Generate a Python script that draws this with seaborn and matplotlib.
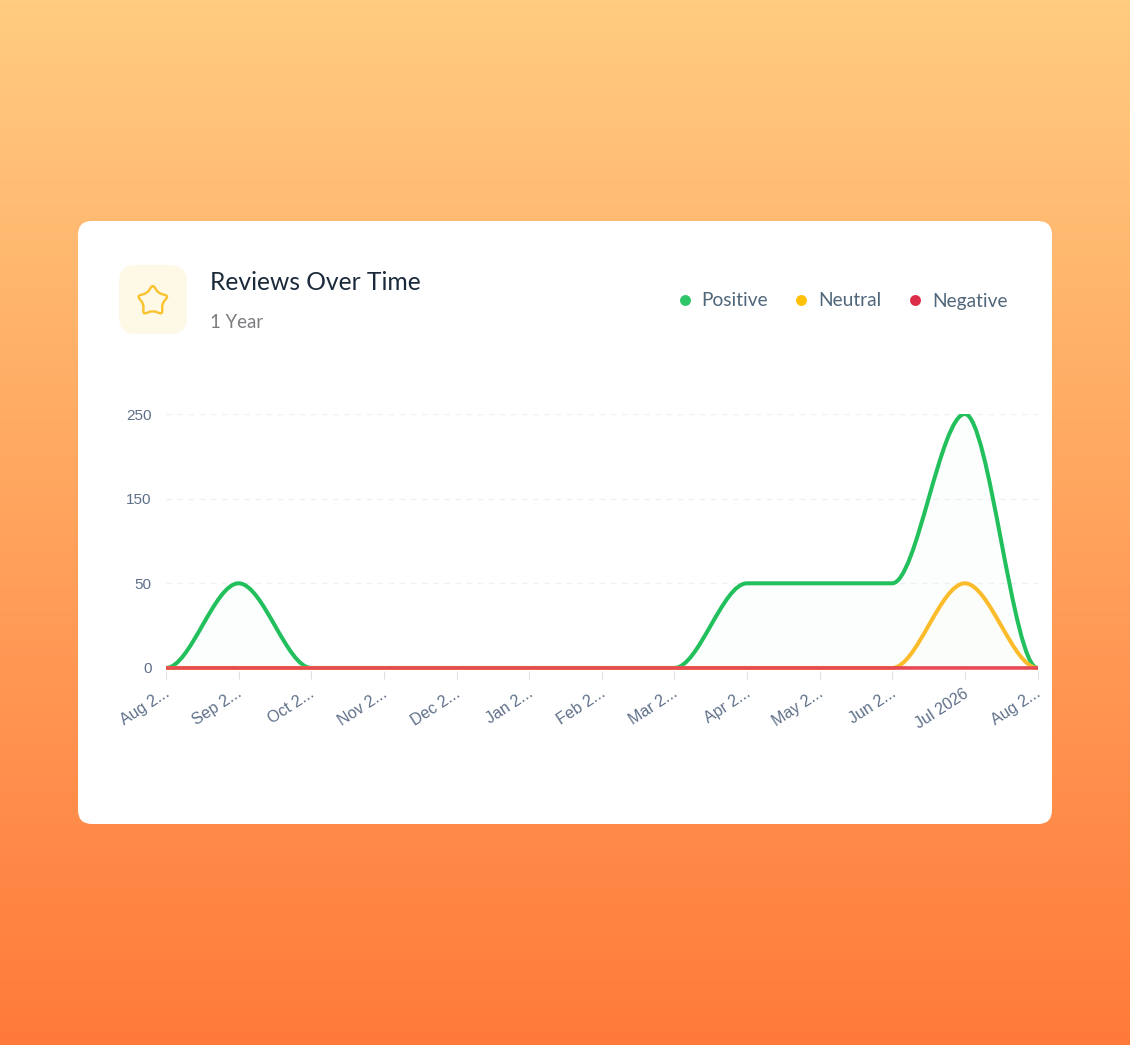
import numpy as np
import pandas as pd
import seaborn as sns
import matplotlib.pyplot as plt
from matplotlib.colors import LinearSegmentedColormap
from matplotlib.patches import FancyBboxPatch, PathPatch
from matplotlib.path import Path
from matplotlib.transforms import ScaledTranslation

# chart data
months = ["Aug 2...", "Sep 2...", "Oct 2...", "Nov 2...", "Dec 2...", "Jan 2...", "Feb 2...",
          "Mar 2...", "Apr 2...", "May 2...", "Jun 2...", "Jul 2026", "Aug 2..."]
positive = [0, 50, 0, 0, 0, 0, 0, 0, 50, 50, 50, 250, 0]
neutral = [0, 0, 0, 0, 0, 0, 0, 0, 0, 0, 0, 50, 0]
negative = [0, 0, 0, 0, 0, 0, 0, 0, 0, 0, 0, 0, 0]
y_ticks = [0, 50, 150, 250]

series_names = ["Positive", "Neutral", "Negative"]
line_colors = ["#22C05C", "#FBBC2C", "#E64A55"]
line_widths = [2.9, 2.9, 2.6]
dot_colors = ["#2FC66B", "#FFC107", "#DC2E4B"]

W, H = 1130, 1045

# the y axis is evenly spaced although its labels are not
scale_from = [-50, 0, 50, 150, 250, 350]
scale_to = [-1, 0, 1, 2, 3, 4]


def forward(v):
    return np.interp(v, scale_from, scale_to)


def inverse(v):
    return np.interp(v, scale_to, scale_from)


def round_box(ax, x0, y0, x1, y1, radius, color):
    ax.add_patch(FancyBboxPatch((x0 + radius, y0 + radius), x1 - x0 - 2 * radius, y1 - y0 - 2 * radius,
                                boxstyle="round,pad=%s,rounding_size=%s" % (radius, radius),
                                fc=color, ec="none"))


def star_path(cx, cy, outer, inner, soft=0.36):
    # five point star with rounded corners, y axis pointing down
    pts = []
    for i in range(10):
        r = outer if i % 2 == 0 else inner
        a = -np.pi / 2 + i * np.pi / 5
        pts.append(np.array([cx + r * np.cos(a), cy + r * np.sin(a)]))
    verts, codes = [], []
    for i, p in enumerate(pts):
        prev_p = pts[i - 1]
        next_p = pts[(i + 1) % 10]
        verts += [p + (prev_p - p) * soft, p, p + (next_p - p) * soft]
        codes += [Path.MOVETO if i == 0 else Path.LINETO, Path.CURVE3, Path.CURVE3]
    verts.append(verts[0])
    codes.append(Path.CLOSEPOLY)
    return Path(verts, codes)


def smooth_line(ax, line, color, width, fill_alpha=0.0):
    # swap the straight segments of a seaborn line for flat-tangent bezier ones
    xy = line.get_xydata()
    verts = [xy[0]]
    codes = [Path.MOVETO]
    for (x0, y0), (x1, y1) in zip(xy[:-1], xy[1:]):
        dx = (x1 - x0) / 3
        verts += [(x0 + dx, y0), (x1 - dx, y1), (x1, y1)]
        codes += [Path.CURVE4] * 3
    if fill_alpha:
        fill_verts = verts + [(xy[-1][0], 0), (xy[0][0], 0), xy[0]]
        fill_codes = codes + [Path.LINETO, Path.LINETO, Path.CLOSEPOLY]
        ax.add_patch(PathPatch(Path(fill_verts, fill_codes), fc=color, ec="none", alpha=fill_alpha))
    ax.add_patch(PathPatch(Path(verts, codes), fc="none", ec=color, lw=width, capstyle="round"))


sns.set_theme(style="white")
plt.rcParams["font.family"] = ["Lato", "DejaVu Sans"]

fig = plt.figure(figsize=(W / 100, H / 100), dpi=100)

# background, card and header are laid out in pixels
bg = fig.add_axes([0, 0, 1, 1])
bg.set_xlim(0, W)
bg.set_ylim(H, 0)
bg.axis("off")
grad = LinearSegmentedColormap.from_list("bg", ["#FFCC80", "#FF7A3A"])
bg.imshow(np.linspace(0, 1, 256).reshape(-1, 1), cmap=grad, extent=(0, W, H, 0), aspect="auto")
bg.set_xlim(0, W)
bg.set_ylim(H, 0)

round_box(bg, 78, 221, 1052, 824, 14, "white")
round_box(bg, 119, 265, 187, 334, 17, "#FEF8E6")
bg.add_patch(PathPatch(star_path(152.8, 301, 16.5, 9.6), fc="none", ec="#F9C22E", lw=1.7))

bg.text(210, 289.5, "Reviews Over Time", fontsize=17.7, color="#1B2A3B", va="baseline")
bg.text(210, 327.5, "1 Year", fontsize=13.4, color="#7A7C80", va="baseline")

dot_x = [685, 801, 915]
text_x = [701.5, 818.5, 932.5]
for name, color, dx, tx in zip(series_names, dot_colors, dot_x, text_x):
    bg.scatter([dx], [300], s=62, color=color, linewidths=0)
    bg.text(tx, 306.5, name, fontsize=13.8, color="#50667A", va="baseline")

# chart
ax = fig.add_axes([166 / W, 1 - 670.5 / H, (1037.5 - 166) / W, (670.5 - 414) / H])
ax.patch.set_alpha(0)
ax.set_yscale("function", functions=(forward, inverse))

df = pd.DataFrame({
    "month": list(range(len(months))) * 3,
    "value": positive + neutral + negative,
    "series": [s for s in series_names for _ in months],
})
sns.lineplot(data=df, x="month", y="value", hue="series", hue_order=series_names,
             palette=line_colors, errorbar=None, estimator=None, linewidth=0, legend=False, ax=ax)

ax.set_xlim(0, len(months) - 1)
ax.set_ylim(-1.5, 250)

for line, color, width, alpha in zip(list(ax.lines), line_colors, line_widths, [0.012, 0.008, 0]):
    smooth_line(ax, line, color, width, alpha)

ax.set_xlabel("")
ax.set_ylabel("")
ax.set_yticks(y_ticks)
ax.set_yticklabels([str(v) for v in y_ticks])
ax.minorticks_off()
ax.set_xticks(range(len(months)))
ax.set_xticklabels(months, rotation=33, ha="right", va="top", rotation_mode="anchor")
ax.tick_params(axis="x", length=6, width=0.8, color="#DDE1E6", pad=5, bottom=True)
ax.tick_params(axis="y", length=0, pad=10.5)

# tick_params resets the label transform, so nudge after it
nudge = ScaledTranslation(-2 / 100, 0, fig.dpi_scale_trans)
for lab in ax.get_xticklabels():
    lab.set_fontfamily(["Liberation Sans"])
    lab.set_fontsize(11.5)
    lab.set_color("#5F6F89")
    lab.set_transform(lab.get_transform() + nudge)
for lab in ax.get_yticklabels():
    lab.set_fontfamily(["Liberation Sans"])
    lab.set_fontsize(11)
    lab.set_color("#5F6F89")

ax.grid(axis="y", color="#EEF1F4", lw=1, linestyle=(0, (4, 4)))
ax.set_axisbelow(True)
sns.despine(ax=ax, left=True, bottom=True)

fig.savefig("out.png", dpi=100)
